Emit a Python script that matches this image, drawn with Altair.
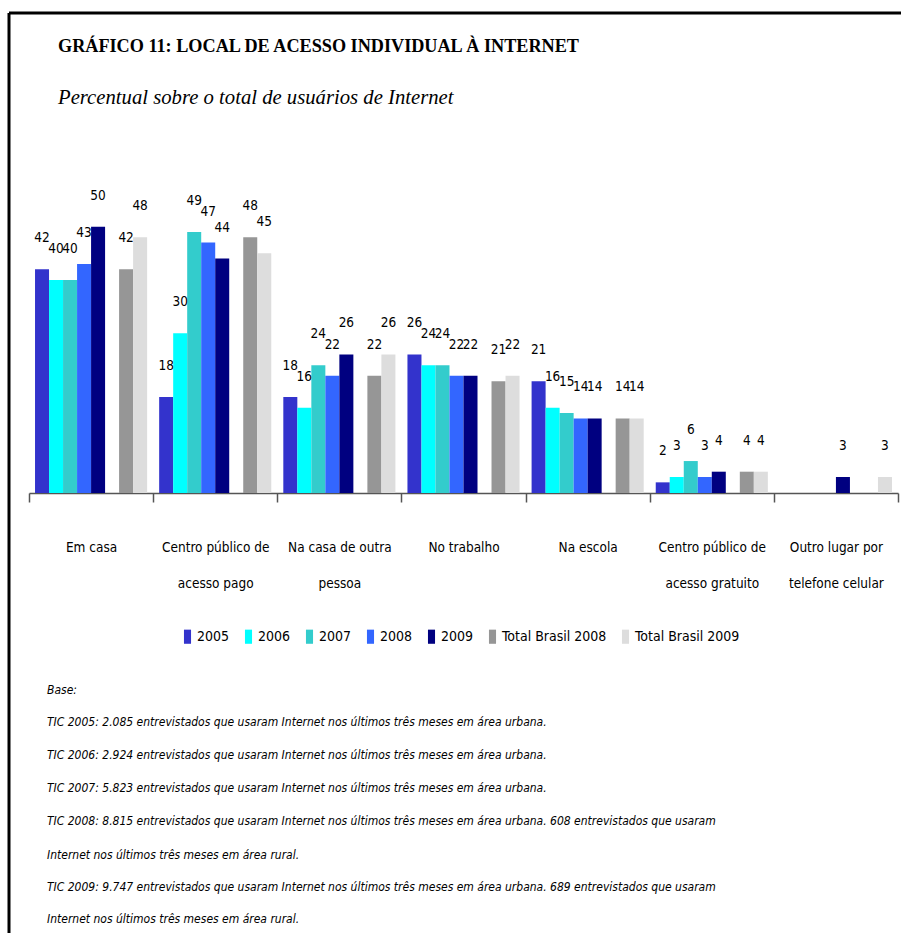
import altair as alt
import pandas as pd

titulo = "GRÁFICO 11: LOCAL DE ACESSO INDIVIDUAL À INTERNET"
subtitulo = "Percentual sobre o total de usuários de Internet"

categorias = [
    "Em casa",
    "Centro público de acesso pago",
    "Na casa de outra pessoa",
    "No trabalho",
    "Na escola",
    "Centro público de acesso gratuito",
    "Outro lugar por telefone celular",
]
rotulos_linhas = [
    ["Em casa"],
    ["Centro público de", "acesso pago"],
    ["Na casa de outra", "pessoa"],
    ["No trabalho"],
    ["Na escola"],
    ["Centro público de", "acesso gratuito"],
    ["Outro lugar por", "telefone celular"],
]
series = ["2005", "2006", "2007", "2008", "2009", "Total Brasil 2008", "Total Brasil 2009"]
cores = ["#3333CC", "#00FFFF", "#33CCCC", "#3366FF", "#000080", "#969696", "#DDDDDD"]

v2005 = [42, 18, 18, 26, 21, 2, None]
v2006 = [40, 30, 16, 24, 16, 3, None]
v2007 = [40, 49, 24, 24, 15, 6, None]
v2008 = [43, 47, 22, 22, 14, 3, None]
v2009 = [50, 44, 26, 22, 14, 4, 3]
vt2008 = [42, 48, 22, 21, 14, 4, None]
vt2009 = [48, 45, 26, 22, 14, 4, 3]

notas = [
    "Base:",
    "TIC 2005: 2.085 entrevistados que usaram Internet nos últimos três meses em área urbana.",
    "TIC 2006: 2.924 entrevistados que usaram Internet nos últimos três meses em área urbana.",
    "TIC 2007: 5.823 entrevistados que usaram Internet nos últimos três meses em área urbana.",
    "TIC 2008: 8.815 entrevistados que usaram Internet nos últimos três meses em área urbana. 608 entrevistados que usaram",
    "Internet nos últimos três meses em área rural.",
    "TIC 2009: 9.747 entrevistados que usaram Internet nos últimos três meses em área urbana. 689 entrevistados que usaram",
    "Internet nos últimos três meses em área rural.",
]
notas_y = [490, 522, 555, 588, 621, 655, 687, 719]

valores = [v2005, v2006, v2007, v2008, v2009, vt2008, vt2009]
linhas = []
for s, vals in zip(series, valores):
    for c, v in zip(categorias, vals):
        if v is not None:
            linhas.append({"Local": c, "Serie": s, "Valor": v})
df = pd.DataFrame(linhas)

offset_dominio = series[:5] + ["_espaco"] + series[5:]

expr = "datum.value"
for c, ls in reversed(list(zip(categorias, rotulos_linhas))):
    arr = "[" + ",".join("'" + l + "'" for l in ls) + "]"
    expr = f"datum.value == '{c}' ? {arr} : ({expr})"

SANS = "'DejaVu Sans Condensed', 'DejaVu Sans', sans-serif"
SERIF = "'Liberation Serif', serif"

x_enc = alt.X(
    "Local:N",
    sort=categorias,
    scale=alt.Scale(domain=categorias, paddingInner=0, paddingOuter=0),
    axis=alt.Axis(
        title=None,
        labelExpr=expr,
        labelAngle=0,
        labelFont=SANS,
        labelFontSize=13.5,
        labelColor="#000000",
        labelLineHeight=36,
        labelPadding=38,
        labelLimit=0,
        tickBand="extent",
        tickSize=9,
        tickColor="#555555",
        tickWidth=1.5,
        domainColor="#555555",
        domainWidth=1.5,
        grid=False,
    ),
)
xo_enc = alt.XOffset("Serie:N", scale=alt.Scale(domain=offset_dominio, paddingInner=0, paddingOuter=0.43))
y_enc = alt.Y("Valor:Q", scale=alt.Scale(domain=[0, 55]), axis=None)

barras = alt.Chart(df).mark_bar().encode(
    x=x_enc,
    xOffset=xo_enc,
    y=y_enc,
    color=alt.Color(
        "Serie:N",
        scale=alt.Scale(domain=series, range=cores),
        legend=alt.Legend(
            title=None,
            orient="none",
            legendX=151,
            legendY=429,
            direction="horizontal",
            symbolType="M-0.5,-1H0.5V1H-0.5Z",
            symbolSize=200,
            symbolStrokeWidth=0,
            labelFont=SANS,
            labelFontSize=14,
            labelColor="#000000",
            labelOffset=2,
            columnPadding=11,
            labelLimit=0,
        ),
    ),
)

rotulos = alt.Chart(df).mark_text(
    baseline="middle", dy=-31, font=SANS, fontSize=13.5, color="#000000"
).encode(x=x_enc, xOffset=xo_enc, y=y_enc, text=alt.Text("Valor:Q"))

um = pd.DataFrame({"a": [0]})

t1 = alt.Chart(um).mark_text(
    align="left", baseline="middle", font=SERIF, fontSize=18.2, fontWeight="bold", color="#000000"
).encode(x=alt.value(29), y=alt.value(-153), text=alt.value(titulo))
t2 = alt.Chart(um).mark_text(
    align="left", baseline="middle", font=SERIF, fontSize=20.7, fontStyle="italic", color="#000000"
).encode(x=alt.value(29), y=alt.value(-102), text=alt.value(subtitulo))

camadas = [barras, rotulos, t1, t2]
for txt, yy in zip(notas, notas_y):
    camadas.append(
        alt.Chart(um).mark_text(
            align="left", baseline="middle", font=SANS, fontSize=12, fontStyle="italic", color="#000000"
        ).encode(x=alt.value(18), y=alt.value(yy), text=alt.value(txt))
    )

borda_topo = alt.Chart(um).mark_rule(color="#000000", strokeWidth=3).encode(
    x=alt.value(-20), x2=alt.value(872), y=alt.value(-187)
)
borda_esq = alt.Chart(um).mark_rule(color="#000000", strokeWidth=3).encode(
    x=alt.value(-20), y=alt.value(-187), y2=alt.value(733)
)
camadas += [borda_topo, borda_esq]

chart = alt.layer(*camadas).properties(
    width=869,
    height=293,
    padding={"left": 29, "top": 200, "right": 3, "bottom": 440},
    autosize=alt.AutoSizeParams(type="none"),
    background="#ffffff",
).configure_view(stroke=None)

chart.save("out.html", embed_options={"renderer": "svg", "actions": False})
